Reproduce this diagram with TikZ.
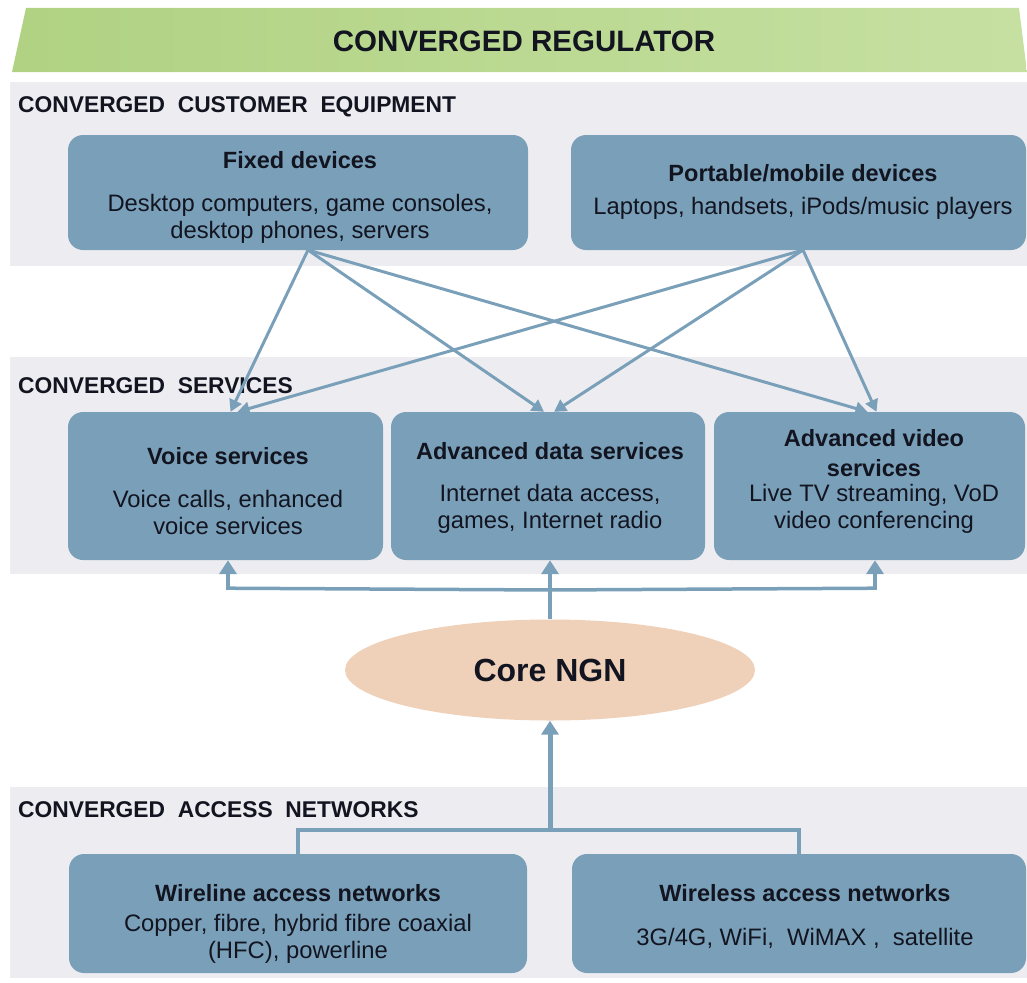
\documentclass[tikz,border=0pt]{standalone}
\usepackage{fontspec}
\setmainfont{Liberation Sans}
\usetikzlibrary{arrows.meta,calc,shapes.geometric}
\definecolor{boxblue}{RGB}{122,160,185}
\definecolor{bandgray}{RGB}{237,237,241}
\definecolor{greenA}{RGB}{176,210,130}
\definecolor{greenB}{RGB}{198,224,162}
\definecolor{peach}{RGB}{239,209,186}
\definecolor{txt}{RGB}{18,20,32}
\begin{document}
\begin{tikzpicture}[x=1pt,y=-1pt,
  card/.style={fill=boxblue, rounded corners=15pt, draw=none, inner sep=0pt},
  lab/.style={anchor=west, inner sep=0pt, text=txt, font=\bfseries\fontsize{22.8}{26}\selectfont},
  ttl/.style={inner sep=0pt, text=txt, align=center, font=\bfseries\fontsize{23.5}{30}\selectfont},
  bdy/.style={inner sep=0pt, text=txt, align=center, font=\fontsize{23.8}{27}\selectfont},
  conn/.style={draw=boxblue, line width=3pt, -{Triangle[width=13pt,length=12pt]}},
  upconn/.style={draw=boxblue, line width=4pt, -{Triangle[width=17pt,length=14pt]}},
  plain/.style={draw=boxblue, line width=3.5pt},
]
\useasboundingbox (0,0) rectangle (1027,982);
% banner
\shade[left color=greenA, right color=greenB] (26,8) -- (1019,8) -- (1027,72) -- (12,72) -- cycle;
\node[inner sep=0pt, text=txt, font=\bfseries\fontsize{29.5}{32}\selectfont] (reg) at (524,41) {CONVERGED REGULATOR};
% bands
\fill[bandgray] (10,82) rectangle (1027,266);
\fill[bandgray] (10,357) rectangle (1027,574);
\fill[bandgray] (10,787) rectangle (1027,978);
\node[lab] (l1) at (18,107) {CONVERGED\ \ CUSTOMER\ \ EQUIPMENT};
\node[lab] (l2) at (18,386) {CONVERGED\ \ SERVICES};
\node[lab] (l3) at (18,810) {CONVERGED\ \ ACCESS\ \ NETWORKS};
% customer equipment
\node[card, minimum width=460, minimum height=115] (fixed) at (298,192.5) {};
\node[ttl] (fixedT) at (300,160) {Fixed\ devices};
\node[bdy] (fixedB) at (300,218.5) {Desktop computers, game consoles,\\desktop phones, servers};
\node[card, minimum width=455, minimum height=115] (port) at (798.5,192.5) {};
\node[ttl] (portT) at (803,173) {Portable/mobile\ devices};
\node[bdy] (portB) at (803,208) {Laptops, handsets, iPods/music players};
% services
\node[card, minimum width=315, minimum height=148] (voice) at (225.5,486) {};
\node[ttl] (voiceT) at (228,456) {Voice services};
\node[bdy] (voiceB) at (228,512) {Voice calls, enhanced\\voice services};
\node[card, minimum width=314, minimum height=148] (data) at (548,486) {};
\node[ttl] (dataT) at (550,451) {Advanced\ data services};
\node[bdy] (dataB) at (550,508.5) {Internet data access,\\games, Internet radio};
\node[card, minimum width=311, minimum height=148] (video) at (869.5,486) {};
\node[ttl] (videoT) at (874,453) {Advanced\ video\\services};
\node[bdy] (videoB) at (874,508.5) {Live TV\ streaming, VoD\\video conferencing};
% core
\node[ellipse, fill=peach, draw=none, minimum width=410, minimum height=101, inner sep=0pt,
      text=txt, font=\bfseries\fontsize{32}{36}\selectfont] (core) at (550,670) {Core NGN};
% access networks
\node[card, minimum width=458, minimum height=119] (wire) at (298,913.5) {};
\node[ttl] (wireT) at (298,893) {Wireline access networks};
\node[bdy] (wireB) at (298,939) {Copper, fibre, hybrid fibre coaxial\\(HFC), powerline};
\node[card, minimum width=454, minimum height=119] (wless) at (799,913.5) {};
\node[ttl] (wlessT) at (805,893) {Wireless access networks};
\node[bdy] (wlessB) at (805,938) {3G/4G, WiFi, \ WiMAX , \ satellite};
% top connectors
\coordinate (fo) at (308,250);
\coordinate (po) at (803,250);
\draw[conn] (fo) -- ($(voice.north)+(5,0)$);
\draw[conn] (fo) -- ($(data.north)+(-4,0)$);
\draw[conn] (fo) -- ($(video.north)+(-2,0)$);
\draw[conn] (po) -- ($(voice.north)+(12,0)$);
\draw[conn] (po) -- ($(data.north)+(6,0)$);
\draw[conn] (po) -- ($(video.north)+(7,0)$);
% core to services
\coordinate (hub) at (550,590);
\draw[upconn] (core.north) -- (data.south -| hub);
\draw[plain] (hub) -- ($(voice.south)+(2.5,28)$);
\draw[plain] (hub) -- ($(video.south)+(5.5,28)$);
\draw[upconn] ($(voice.south)+(2.5,29.7)$) -- ($(voice.south)+(2.5,0)$);
\draw[upconn] ($(video.south)+(5.5,29.7)$) -- ($(video.south)+(5.5,0)$);
% access to core
\coordinate (join) at (550,830);
\draw[plain] (wire.north) |- (join) -| (wless.north);
\draw[upconn, line width=5pt] (join) -- (core.south);
\end{tikzpicture}
\end{document}
